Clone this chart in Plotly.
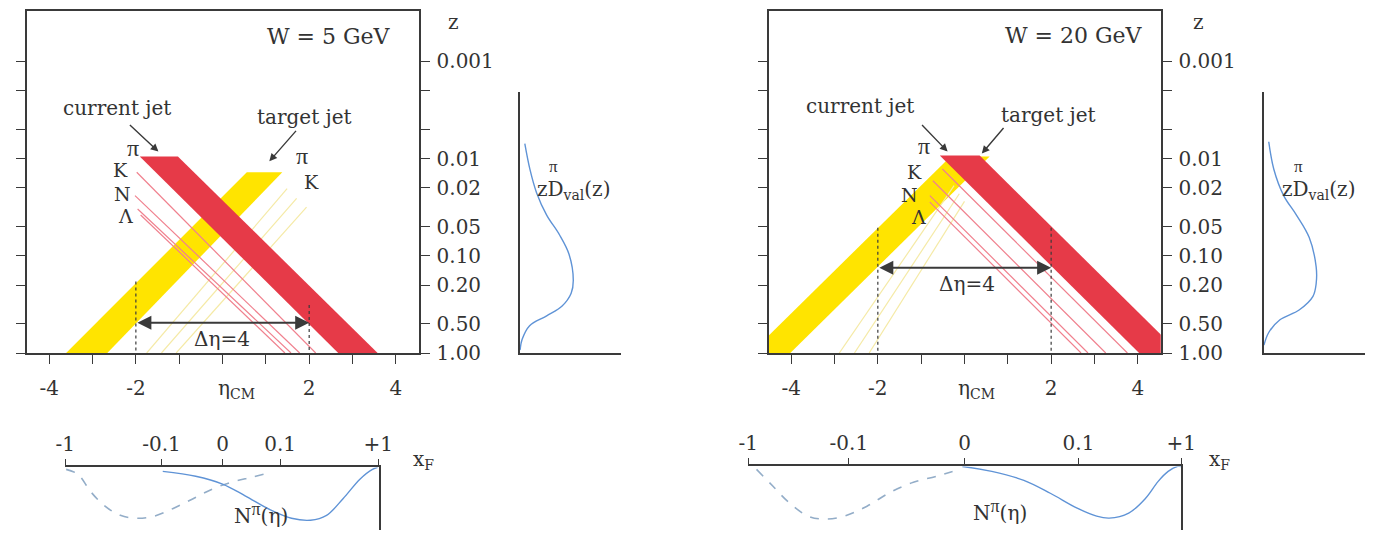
import math
import plotly.graph_objects as go

W, H = 1390, 542

# ---------------- data ----------------
z_tickvals = [0.001, 0.002, 0.005, 0.01, 0.02, 0.05, 0.1, 0.2, 0.5, 1.0]
z_ticktext = ["0.001", "", "", "0.01", "0.02", "0.05", "0.10", "0.20", "0.50", "1.00"]
eta_tickvals = [-4, -3, -2, -1, 0, 1, 2, 3, 4]
eta_ticktext = ["-4", "", "-2", "", "", "", "2", "", "4"]
xf_ticktext = ["-1", "-0.1", "0", "0.1", "+1"]

# ---- W = 5 GeV ----
L_red_eta = [-1.91, -1.03, 3.58, 2.67]
L_red_z = [0.0095, 0.0095, 1.0, 1.0]
L_yel_eta = [0.56, 1.38, -2.66, -3.61]
L_yel_z = [0.0138, 0.0138, 1.0, 1.0]
L_pink_eta0 = [-1.98, -2.02, -1.96, -1.89]
L_pink_z0 = [0.0138, 0.024, 0.033, 0.038]
L_pink_eta1 = [2.15, 1.78, 1.58, 1.44]
L_yline_eta0 = [1.49, 1.71, 1.94]
L_yline_z0 = [0.0204, 0.0257, 0.0316]
L_yline_eta1 = [-1.75, -1.41, -1.07]
L_deta_z = 0.488
L_dot_ztop = [0.184, 0.321]
L_zD_z = [0.00703, 0.01285, 0.0224, 0.0381, 0.0607, 0.0964, 0.180, 0.243, 0.329, 0.415, 0.523, 0.723, 0.933]
L_zD_val = [0.09, 0.185, 0.31, 0.50, 0.74, 0.92, 1.0, 0.96, 0.79, 0.50, 0.18, 0.04, 0.0]
L_xf_eta = [-3.63, -1.41, 0.0, 1.33, 3.595]
L_solid_eta = [-1.38, -0.62, 0.0, 0.52, 1.13, 1.59, 2.03, 2.40, 2.78, 3.17, 3.46, 3.58]
L_solid_N = [-0.08, -0.18, -0.34, -0.58, -0.88, -1.04, -1.08, -0.98, -0.64, -0.24, -0.04, 0.0]
L_dash_eta = [-3.61, -3.34, -3.04, -2.73, -2.36, -1.98, -1.59, -1.14, -0.68, -0.23, 0.22, 0.68, 1.13]
L_dash_N = [-0.04, -0.14, -0.50, -0.78, -0.98, -1.04, -1.00, -0.84, -0.64, -0.44, -0.30, -0.20, -0.10]

# ---- W = 20 GeV ----
R_red_eta = [-0.57, 0.35, 4.96, 4.03]
R_red_z = [0.0093, 0.0093, 1.0, 1.0]
R_yel_eta = [-0.32, 0.58, -4.02, -4.93]
R_yel_z = [0.0095, 0.0095, 1.0, 1.0]
R_pink_eta0 = [-0.51, -0.73, -0.80, -0.80]
R_pink_z0 = [0.0128, 0.0169, 0.024, 0.028]
R_pink_eta1 = [3.76, 3.26, 2.85, 2.69]
R_yline_eta0 = [-0.24, -0.12, 0.0]
R_yline_z0 = [0.019, 0.023, 0.0275]
R_yline_eta1 = [-2.89, -2.54, -2.20]
R_deta_z = 0.133
R_dot_ztop = [0.0515, 0.0515]
R_zD_z = [0.00671, 0.01285, 0.024, 0.0381, 0.065, 0.130, 0.193, 0.261, 0.361, 0.455, 0.615, 0.831]
R_zD_val = [0.09, 0.185, 0.37, 0.61, 0.85, 0.98, 0.98, 0.92, 0.66, 0.30, 0.09, 0.0]
R_xf_eta = [-4.99, -2.67, 0.0, 2.63, 5.0]
R_solid_eta = [-0.05, 0.63, 1.37, 1.98, 2.60, 3.05, 3.34, 3.79, 4.18, 4.47, 4.70, 4.92, 5.0]
R_solid_N = [0.0, -0.10, -0.28, -0.54, -0.84, -1.0, -1.04, -0.94, -0.64, -0.30, -0.10, 0.0, 0.0]
R_dash_eta = [-4.80, -4.42, -4.06, -3.61, -3.22, -2.77, -2.25, -1.71, -1.18, -0.66, -0.12]
R_dash_N = [-0.06, -0.40, -0.72, -1.0, -1.06, -1.0, -0.80, -0.52, -0.32, -0.20, -0.06]

# ---------------- style ----------------
RED = "#e63a48"
YEL = "#ffe400"
PINK = "#f0808e"
PALEYEL = "#f5eaa6"
BLUE = "#5f93d6"
DASHBLUE = "#93adc8"
INK = "#3a3a3a"
FONT = "DejaVu Serif"
PI = '<span style="font-family:Liberation Serif;font-size:18px">π</span>'

fig = go.Figure()


def panel(xa, ya, red_eta, red_z, yel_eta, yel_z, pe0, pz0, pe1, ye0, yz0, ye1, dot_top):
    fig.add_trace(go.Scatter(x=yel_eta + [yel_eta[0]], y=yel_z + [yel_z[0]], fill="toself",
                             fillcolor=YEL, line=dict(width=0, color=YEL), mode="lines",
                             xaxis=xa, yaxis=ya, hoverinfo="skip", showlegend=False))
    for a, zz, b in zip(ye0, yz0, ye1):
        fig.add_trace(go.Scatter(x=[a, b], y=[zz, 1.0], mode="lines",
                                 line=dict(color=PALEYEL, width=1.2),
                                 xaxis=xa, yaxis=ya, hoverinfo="skip", showlegend=False))
    for a, zz, b in zip(pe0, pz0, pe1):
        fig.add_trace(go.Scatter(x=[a, b], y=[zz, 1.0], mode="lines",
                                 line=dict(color=PINK, width=1.2),
                                 xaxis=xa, yaxis=ya, hoverinfo="skip", showlegend=False))
    fig.add_trace(go.Scatter(x=red_eta + [red_eta[0]], y=red_z + [red_z[0]], fill="toself",
                             fillcolor=RED, line=dict(width=0, color=RED), mode="lines",
                             xaxis=xa, yaxis=ya, hoverinfo="skip", showlegend=False))
    for e, zt in zip([-2, 2], dot_top):
        fig.add_trace(go.Scatter(x=[e, e], y=[zt, 1.0], mode="lines",
                                 line=dict(color=INK, width=1.2, dash="dot"),
                                 xaxis=xa, yaxis=ya, hoverinfo="skip", showlegend=False))


panel("x", "y", L_red_eta, L_red_z, L_yel_eta, L_yel_z, L_pink_eta0, L_pink_z0, L_pink_eta1,
      L_yline_eta0, L_yline_z0, L_yline_eta1, L_dot_ztop)
panel("x4", "y4", R_red_eta, R_red_z, R_yel_eta, R_yel_z, R_pink_eta0, R_pink_z0, R_pink_eta1,
      R_yline_eta0, R_yline_z0, R_yline_eta1, R_dot_ztop)

# zD curves
fig.add_trace(go.Scatter(x=L_zD_val, y=L_zD_z, mode="lines", line=dict(color=BLUE, width=1.4, shape="spline"),
                         xaxis="x2", yaxis="y2", hoverinfo="skip", showlegend=False))
fig.add_trace(go.Scatter(x=R_zD_val, y=R_zD_z, mode="lines", line=dict(color=BLUE, width=1.4, shape="spline"),
                         xaxis="x5", yaxis="y5", hoverinfo="skip", showlegend=False))

# N(eta) curves
for xa, ya, se, sn, de, dn in [("x3", "y3", L_solid_eta, L_solid_N, L_dash_eta, L_dash_N),
                               ("x6", "y6", R_solid_eta, R_solid_N, R_dash_eta, R_dash_N)]:
    fig.add_trace(go.Scatter(x=de, y=dn, mode="lines", line=dict(color=DASHBLUE, width=1.6, dash="dash", shape="spline"),
                             xaxis=xa, yaxis=ya, hoverinfo="skip", showlegend=False))
    fig.add_trace(go.Scatter(x=se, y=sn, mode="lines", line=dict(color=BLUE, width=1.4, shape="spline"),
                             xaxis=xa, yaxis=ya, hoverinfo="skip", showlegend=False))

# ---------------- axes ----------------
lz_top = -350 / 99.4


def main_x(d0, d1):
    return dict(domain=[d0 / W, d1 / W], range=[-4.52, 4.53], tickvals=eta_tickvals, ticktext=eta_ticktext,
                ticks="outside", ticklen=9, tickwidth=1.4, tickcolor=INK, showline=True, linewidth=1.5,
                linecolor=INK, mirror=True, showgrid=False, zeroline=False, ticklabelstandoff=7,
                tickfont=dict(size=20, family=FONT, color="#333"), fixedrange=True)


def main_y(anchor):
    return dict(domain=[1 - 361 / H, 1 - 11 / H], type="log", range=[0, lz_top], anchor=anchor, side="right",
                tickvals=z_tickvals, ticktext=z_ticktext, ticks="outside", ticklen=9, tickwidth=1.4,
                tickcolor=INK, showline=True, linewidth=1.5, linecolor=INK, mirror="ticks", showgrid=False,
                zeroline=False, ticklabelstandoff=3, tickfont=dict(size=20, family=FONT, color="#333"))


def side_x(d0, d1, anchor):
    return dict(domain=[d0 / W, d1 / W], range=[0, 1.9], anchor=anchor, showline=True, linewidth=1.5,
                linecolor=INK, showticklabels=False, ticks="", showgrid=False, zeroline=False)


def side_y(anchor):
    return dict(domain=[1 - 361 / H, 1 - 94 / H], type="log", range=[0, -267 / 99.4], anchor=anchor,
                showline=True, linewidth=1.5, linecolor=INK, showticklabels=False, ticks="",
                showgrid=False, zeroline=False)


def bot_x(d0, d1, r, tv, anchor):
    return dict(domain=[d0 / W, d1 / W], range=r, anchor=anchor, side="top", tickvals=tv, ticktext=xf_ticktext,
                ticks="outside", ticklen=7, tickwidth=1.4, tickcolor=INK, showline=True, linewidth=1.5,
                linecolor=INK, showgrid=False, zeroline=False,
                tickfont=dict(size=20, family=FONT, color="#333"))


def bot_y(top, anchor):
    return dict(domain=[0, 1 - top / H], range=[-1.28, 0], anchor=anchor, side="right", showline=True,
                linewidth=1.5, linecolor=INK, showticklabels=False, ticks="", showgrid=False, zeroline=False)


fig.update_layout(
    width=W, height=H, margin=dict(l=0, r=0, t=0, b=0),
    paper_bgcolor="white", plot_bgcolor="rgba(0,0,0,0)",
    font=dict(family=FONT, size=20, color="#333"),
    showlegend=False,
    xaxis=dict(main_x(18, 417), anchor="y"),
    yaxis=main_y("x"),
    xaxis2=side_x(520, 623, "y2"),
    yaxis2=side_y("x2"),
    xaxis3=bot_x(57, 376, [-3.636, 3.599], L_xf_eta, "y3"),
    yaxis3=bot_y(478, "x3"),
    xaxis4=dict(main_x(773, 1172), anchor="y4"),
    yaxis4=main_y("x4"),
    xaxis5=side_x(1277, 1380, "y5"),
    yaxis5=side_y("x5"),
    xaxis6=bot_x(752, 1193, [-4.997, 5.006], R_xf_eta, "y6"),
    yaxis6=bot_y(477, "x6"),
)

# ---------------- annotations ----------------
ann = []


def text(x, y, s, size=20, xanchor="center", family=FONT):
    ann.append(dict(x=x / W, y=1 - y / H, xref="paper", yref="paper", text=s, showarrow=False,
                    font=dict(size=size, family=family, color="#333"), xanchor=xanchor, yanchor="middle"))


def arrow(xa, ya, eta, z, ax, ay):
    ann.append(dict(x=eta, y=math.log10(z), xref=xa, yref=ya, ax=ax, ay=ay, text="", showarrow=True,
                    arrowhead=2, arrowsize=1.1, arrowwidth=1.4, arrowcolor=INK, standoff=0))


def deta(xa, ya, z):
    lz = math.log10(z)
    ann.append(dict(x=2, y=lz, xref=xa, yref=ya, ax=-2, ay=lz, axref=xa, ayref=ya, text="", showarrow=True,
                    arrowhead=2, arrowsize=1.4, arrowwidth=2, arrowside="end+start", arrowcolor=INK,
                    standoff=0, startstandoff=0))


# left panel
text(326, 37, "W = 5 GeV", 22)
text(452, 22, "z")
text(110, 110, "current jet")
text(301, 120, "target jet")
text(126, 151, "π", 24, family="Liberation Serif")
text(113, 174, "K", 19)
text(115, 198, "N", 19)
text(119, 221, "Λ", 19)
text(298, 160, "π", 24, family="Liberation Serif")
text(308, 186, "K", 19)
text(217, 347, "Δη=4")
text(232, 398, "η<sub>CM</sub>")
text(535, 194, "zD<sub>val</sub>(z)", 20, "left")
text(554, 170, "π", 17, family="Liberation Serif")
text(422, 470, "x<sub>F</sub>")
text(256, 525, "N<sup>" + PI + "</sup>(η)")
arrow("x", "y", -1.48, 10 ** (-206 / 99.4), -30, -28)
arrow("x", "y", 1.08, 10 ** (-196 / 99.4), 28, -32)
deta("x", "y", L_deta_z)

# right panel
text(1084, 36, "W = 20 GeV", 22)
text(1210, 22, "z")
text(866, 108, "current jet")
text(1058, 118, "target jet")
text(931, 149, "π", 24, family="Liberation Serif")
text(921, 176, "K", 19)
text(916, 199, "N", 19)
text(925, 222, "Λ", 19)
text(975, 290, "Δη=4")
text(985, 398, "η<sub>CM</sub>")
text(1293, 194, "zD<sub>val</sub>(z)", 20, "left")
text(1312, 170, "π", 17, family="Liberation Serif")
text(1232, 470, "x<sub>F</sub>")
text(1008, 522, "N<sup>" + PI + "</sup>(η)")
arrow("x4", "y4", -0.39, 10 ** (-206 / 99.4), -27, -28)
arrow("x4", "y4", 0.40, 10 ** (-204 / 99.4), 23, -27)
deta("x4", "y4", R_deta_z)

fig.update_layout(annotations=ann)
fig.write_html("out.html")
